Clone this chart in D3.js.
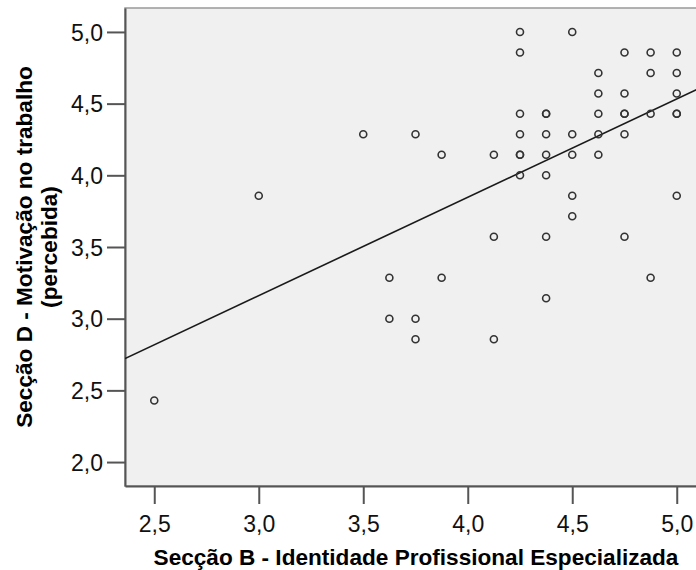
<!DOCTYPE html>
<html>
<head>
<meta charset="utf-8">
<script src="https://cdn.jsdelivr.net/npm/d3@7"></script>
<style>
  body { margin: 0; background: #fff; }
  svg { display: block; font-family: "Liberation Sans", Arial, sans-serif; }
  .tick-label { font-size: 23px; fill: #111; }
  .axis-title { font-size: 22.6px; font-weight: bold; fill: #000; }
</style>
</head>
<body>
<svg width="696" height="570"></svg>
<script>
// DATA
const X_TICKS = [2.5, 3.0, 3.5, 4.0, 4.5, 5.0];
const Y_TICKS = [2.0, 2.5, 3.0, 3.5, 4.0, 4.5, 5.0];
const X_TITLE = "Secção B - Identidade Profissional Especializada";
const Y_TITLE = ["Secção D - Motivação no trabalho", "(percebida)"];

// identidade (x) and motivação (y) for each respondent
const identidade = [
  2.5, 3.0, 3.5, 3.625, 3.625, 3.75, 3.75, 3.75, 3.875, 3.875,
  4.125, 4.125, 4.125,
  4.25, 4.25, 4.25, 4.25, 4.25, 4.25, 4.25,
  4.375, 4.375, 4.375, 4.375, 4.375, 4.375, 4.375,
  4.5, 4.5, 4.5, 4.5, 4.5,
  4.625, 4.625, 4.625, 4.625, 4.625,
  4.75, 4.75, 4.75, 4.75, 4.75, 4.75,
  4.875, 4.875, 4.875, 4.875,
  5.0, 5.0, 5.0, 5.0, 5.0, 5.0
];
const motivacao = [
  2.429, 3.857, 4.286, 3.286, 3.0, 4.286, 3.0, 2.857, 4.143, 3.286,
  4.143, 3.571, 2.857,
  5.0, 4.857, 4.429, 4.286, 4.143, 4.143, 4.0,
  4.429, 4.429, 4.286, 4.143, 4.0, 3.571, 3.143,
  5.0, 4.286, 4.143, 3.857, 3.714,
  4.714, 4.571, 4.429, 4.286, 4.143,
  4.857, 4.571, 4.429, 4.429, 4.286, 3.571,
  4.857, 4.714, 4.429, 3.286,
  4.857, 4.714, 4.571, 4.429, 4.429, 3.857
];

// fit line: y = a + b*x
const FIT = { intercept: 1.103, slope: 0.686 };

// LAYOUT
const X_DOMAIN = [2.36, 5.14];
const Y_DOMAIN = [1.833, 5.167];
const PLOT = { left: 125, right: 706, top: 8, bottom: 486 };
const TICK_LEN = 18;
const BG = "#f0f0f0";
const AXIS_COLOR = "#555";
const MARK_COLOR = "#333";

const fmt = v => d3.format(".1f")(v).replace(".", ",");

const x = d3.scaleLinear().domain(X_DOMAIN).range([PLOT.left, PLOT.right]);
const y = d3.scaleLinear().domain(Y_DOMAIN).range([PLOT.bottom, PLOT.top]);

const svg = d3.select("svg");

// plot background + frame
svg.append("rect")
  .attr("x", PLOT.left)
  .attr("y", PLOT.top)
  .attr("width", PLOT.right - PLOT.left)
  .attr("height", PLOT.bottom - PLOT.top)
  .attr("fill", BG)
  .attr("stroke", "#999")
  .attr("stroke-width", 1.5);

// axes
const xAxis = d3.axisBottom(x).tickValues(X_TICKS).tickSize(TICK_LEN).tickSizeOuter(0).tickPadding(12).tickFormat(fmt);
const yAxis = d3.axisLeft(y).tickValues(Y_TICKS).tickSize(TICK_LEN).tickSizeOuter(0).tickPadding(4).tickFormat(fmt);

const gx = svg.append("g").attr("transform", `translate(0,${PLOT.bottom})`).call(xAxis);
const gy = svg.append("g").attr("transform", `translate(${PLOT.left},0)`).call(yAxis);

[gx, gy].forEach(g => {
  g.select(".domain").attr("stroke", AXIS_COLOR).attr("stroke-width", 2);
  g.selectAll(".tick line").attr("stroke", AXIS_COLOR).attr("stroke-width", 2);
  g.selectAll(".tick text")
    .attr("class", "tick-label")
    .attr("font-family", null)
    .attr("font-size", null);
  g.attr("font-family", null).attr("font-size", null);
});
gy.selectAll(".tick text").attr("dy", "0.36em");

// clip for marks
svg.append("clipPath").attr("id", "plot-clip")
  .append("rect")
  .attr("x", PLOT.left).attr("y", PLOT.top)
  .attr("width", PLOT.right - PLOT.left).attr("height", PLOT.bottom - PLOT.top);

const marks = svg.append("g").attr("clip-path", "url(#plot-clip)");

// fit line
const line = d3.line().x(d => x(d)).y(d => y(FIT.intercept + FIT.slope * d));
marks.append("path")
  .datum(X_DOMAIN)
  .attr("d", line)
  .attr("fill", "none")
  .attr("stroke", "#1a1a1a")
  .attr("stroke-width", 1.6);

// points
marks.selectAll(".pt")
  .data(identidade.map((v, i) => ({ x: v, y: motivacao[i] })))
  .enter()
  .append("circle")
  .classed("pt", true)
  .attr("cx", d => x(d.x))
  .attr("cy", d => y(d.y))
  .attr("r", 3.5)
  .attr("fill", "none")
  .attr("stroke", MARK_COLOR)
  .attr("stroke-width", 1.6);

// axis titles
svg.append("text")
  .attr("class", "axis-title")
  .attr("x", 416)
  .attr("y", 565)
  .attr("text-anchor", "middle")
  .text(X_TITLE);

const yTitle = svg.append("text")
  .attr("class", "axis-title")
  .attr("text-anchor", "middle")
  .attr("transform", `translate(0,${(PLOT.top + PLOT.bottom) / 2}) rotate(-90)`);

yTitle.selectAll("tspan")
  .data(Y_TITLE)
  .enter()
  .append("tspan")
  .attr("x", 0)
  .attr("y", (d, i) => 32 + i * 25)
  .text(d => d);
</script>
</body>
</html>
